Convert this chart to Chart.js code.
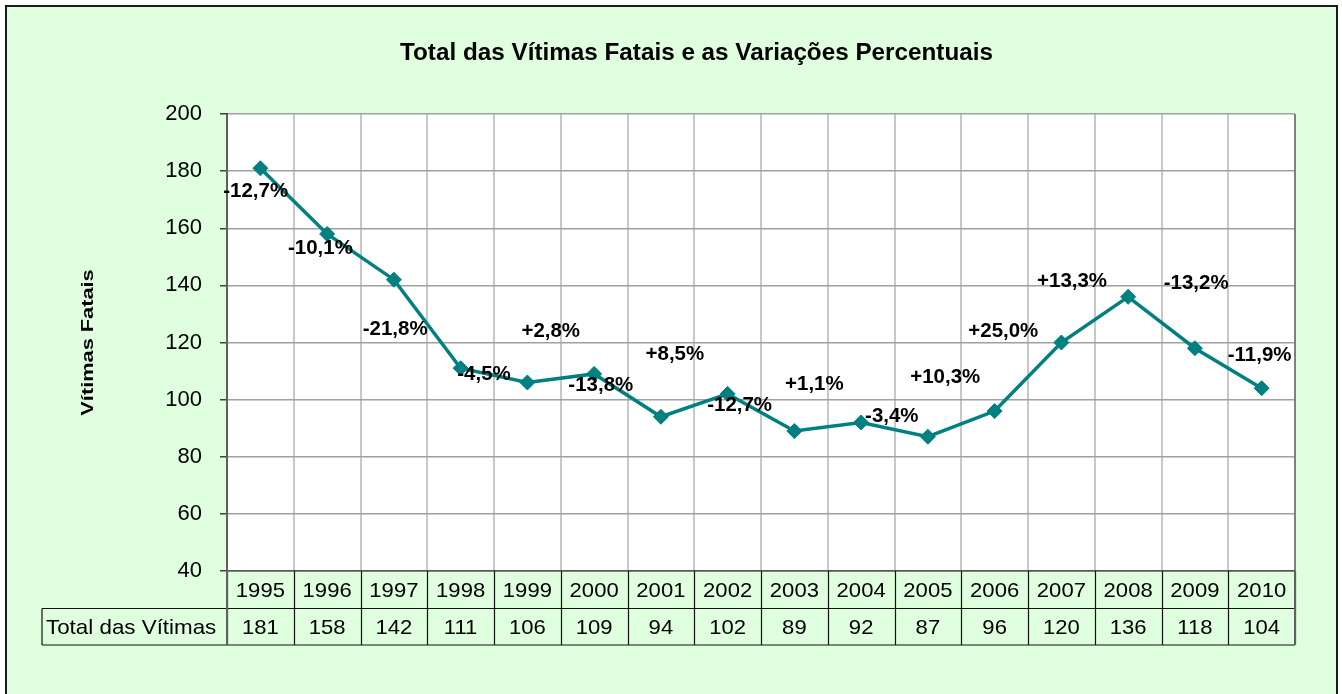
<!DOCTYPE html>
<html>
<head>
<meta charset="utf-8">
<script src="https://cdn.jsdelivr.net/npm/chart.js@4"></script>
<style>
html,body{margin:0;padding:0;background:#fff;}
#wrap{position:relative;width:1342px;height:694px;}
</style>
</head>
<body>
<div id="wrap"><canvas id="c" width="1342" height="694"></canvas></div>
<script>
const chartTitle = 'Total das Vítimas Fatais e as Variações Percentuais';
const yAxisTitle = 'Vítimas Fatais';
const tableRowLabel = 'Total das Vítimas';
const years = ['1995','1996','1997','1998','1999','2000','2001','2002','2003','2004','2005','2006','2007','2008','2009','2010'];
const victims = [181,158,142,111,106,109,94,102,89,92,87,96,120,136,118,104];
const yTicks = [40,60,80,100,120,140,160,180,200];
const pctLabels = ['-12,7%','-10,1%','-21,8%','-4,5%','+2,8%','-13,8%','+8,5%','-12,7%','+1,1%','-3,4%','+10,3%','+25,0%','+13,3%','-13,2%','-11,9%'];
// label anchors in data space (category index, value)
const pctAnchorX = [-0.07,0.90,2.02,3.35,4.35,5.10,6.21,7.18,8.30,9.46,10.26,11.13,12.16,14.02,14.97];
const pctAnchorY = [172.7,152.9,124.4,108.6,123.9,104.8,115.6,97.8,105.1,94.1,107.6,123.9,141.4,140.5,115.3];

const FONT = '"Liberation Sans", Arial, sans-serif';
const BG = '#DFFFDF';

function stretchedText(ctx, text, x, y, sx) {
  ctx.save();
  ctx.translate(x, y);
  ctx.scale(sx, 1);
  ctx.fillText(text, 0, 0);
  ctx.restore();
}

const decor = {
  id: 'decor',
  beforeDraw(chart) {
    const ctx = chart.ctx;
    ctx.save();
    ctx.fillStyle = '#ffffff';
    ctx.fillRect(0, 0, chart.width, chart.height);
    ctx.fillStyle = BG;
    ctx.fillRect(6, 6, 1331, 700);
    ctx.strokeStyle = '#1a1a1a';
    ctx.lineWidth = 2;
    ctx.strokeRect(6, 6, 1331, 700);
    const a = chart.chartArea;
    ctx.fillStyle = '#ffffff';
    ctx.fillRect(a.left, a.top, a.right - a.left, a.bottom - a.top);
    ctx.restore();
  },
  afterDraw(chart) {
    const ctx = chart.ctx;
    const a = chart.chartArea;
    const xs = chart.scales.x, ys = chart.scales.y;
    const n = years.length;
    const w = (a.right - a.left) / n;
    ctx.save();
    // title
    ctx.fillStyle = '#000';
    ctx.font = 'bold 23px ' + FONT;
    ctx.textAlign = 'center';
    ctx.textBaseline = 'middle';
    stretchedText(ctx, chartTitle, 696.5, 54, 1.055);
    // y title
    ctx.save();
    ctx.translate(89, (a.top + a.bottom) / 2);
    ctx.rotate(-Math.PI / 2);
    ctx.font = 'bold 16px ' + FONT;
    stretchedText(ctx, yAxisTitle, 0, 0, 1.36);
    ctx.restore();
    // plot right border
    ctx.strokeStyle = '#808080';
    ctx.lineWidth = 2;
    ctx.beginPath();
    ctx.moveTo(a.right, a.top); ctx.lineTo(a.right, a.bottom);
    ctx.stroke();
    // data table
    const r0 = a.bottom, r1 = a.bottom + 37.5, r2 = a.bottom + 74;
    ctx.fillStyle = BG;
    ctx.fillRect(a.left, r0, a.right - a.left, r2 - r0);
    ctx.fillRect(42, r1, a.left - 42, r2 - r1);
    ctx.strokeStyle = '#111';
    ctx.lineWidth = 1.2;
    ctx.beginPath();
    ctx.moveTo(a.left, r0); ctx.lineTo(a.right, r0);
    ctx.moveTo(42, r1); ctx.lineTo(a.right, r1);
    ctx.moveTo(42, r2); ctx.lineTo(a.right, r2);
    ctx.moveTo(42, r1); ctx.lineTo(42, r2);
    for (let i = 0; i <= n; i++) {
      const x = Math.round(a.left + i * w) + 0.5;
      ctx.moveTo(x, r0); ctx.lineTo(x, r2);
    }
    ctx.stroke();
    ctx.strokeStyle = '#606060';
    ctx.lineWidth = 2;
    ctx.beginPath();
    ctx.moveTo(a.left, a.top); ctx.lineTo(a.left, r2);
    ctx.moveTo(a.right, r0); ctx.lineTo(a.right, r2);
    ctx.stroke();
    ctx.fillStyle = '#000';
    ctx.font = '21px ' + FONT;
    ctx.textAlign = 'center';
    for (let i = 0; i < n; i++) {
      const cx = xs.getPixelForValue(i);
      stretchedText(ctx, years[i], cx, (r0 + r1) / 2 + 1, 1.05);
      stretchedText(ctx, String(victims[i]), cx, (r1 + r2) / 2 + 1, 1.05);
    }
    ctx.textAlign = 'left';
    stretchedText(ctx, tableRowLabel, 46, (r1 + r2) / 2 + 1, 1.065);
    // percentage labels
    ctx.font = 'bold 19.5px ' + FONT;
    ctx.textAlign = 'center';
    for (let i = 0; i < pctLabels.length; i++) {
      stretchedText(ctx, pctLabels[i], xs.getPixelForValue(pctAnchorX[i]), ys.getPixelForValue(pctAnchorY[i]), 1.05);
    }
    ctx.restore();
  }
};

new Chart(document.getElementById('c'), {
  type: 'line',
  data: {
    labels: years,
    datasets: [{
      data: victims,
      borderColor: '#008080',
      backgroundColor: '#008080',
      borderWidth: 3.5,
      pointStyle: 'rectRot',
      pointRadius: 7.5,
      pointHoverRadius: 7.5,
      pointBackgroundColor: '#008080',
      pointBorderColor: '#008080',
      pointBorderWidth: 1,
      tension: 0,
      clip: false
    }]
  },
  options: {
    responsive: false,
    animation: false,
    events: [],
    layout: { padding: { left: 0, right: 47, top: 114, bottom: 123 } },
    plugins: { legend: { display: false }, tooltip: { enabled: false }, title: { display: false } },
    scales: {
      x: {
        type: 'category',
        offset: true,
        grid: { offset: true, color: '#C8C8C8', lineWidth: 2, drawTicks: false },
        border: { display: false },
        ticks: { display: false },
        afterFit(s) { s.height = 0; }
      },
      y: {
        min: 40, max: 200,
        afterBuildTicks(s) { s.ticks = yTicks.map(v => ({ value: v })); },
        grid: { color: '#A0A0A0', lineWidth: 1.5, tickLength: 7, tickColor: '#404040', tickWidth: 1.5 },
        border: { display: true, color: '#404040', width: 2 },
        ticks: { color: '#000', padding: 18, font: { family: FONT, size: 22 } },
        afterFit(s) { s.width = 227; }
      }
    }
  },
  plugins: [decor]
});
</script>
</body>
</html>
